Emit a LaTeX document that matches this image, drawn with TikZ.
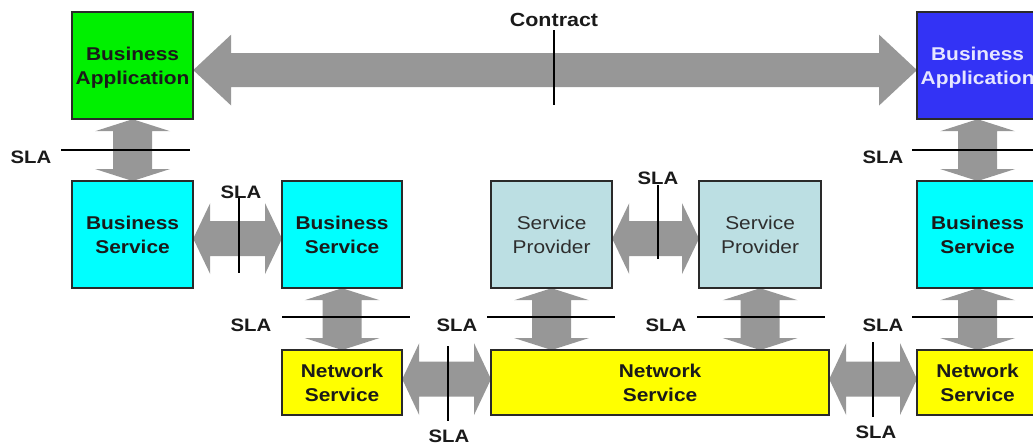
\documentclass[tikz,border=0pt]{standalone}
\usepackage{fontspec}
\setmainfont{Liberation Sans}[FakeStretch=1.13]
\usetikzlibrary{calc}

\definecolor{appgreen}{HTML}{00F000}
\definecolor{appblue}{HTML}{3333F5}
\definecolor{applabel}{HTML}{E6E6FF}
\definecolor{svccyan}{HTML}{00FFFF}
\definecolor{provgray}{HTML}{BCDFE3}
\definecolor{netyellow}{HTML}{FFFF00}
\definecolor{conngray}{HTML}{979797}
\definecolor{boxline}{HTML}{2A2A2A}
\definecolor{inktext}{HTML}{1A1A1A}
\definecolor{provtext}{HTML}{2E2E2E}

\tikzset{
  box/.style={draw=boxline, line width=1.2pt, anchor=north west, inner sep=0pt,
    align=center, text=inktext, font=\fontsize{18.5}{24}\selectfont\bfseries},
  tallbox/.style={box, minimum width=#1, minimum height=106pt},
  lowbox/.style={box, minimum width=#1, minimum height=64pt},
  provbox/.style={tallbox=#1, fill=provgray, text=provtext,
    font=\fontsize{18.5}{24}\selectfont},
  conn/.style={fill=conngray},
  slaline/.style={line width=2.6pt, black},
  slalabel/.style={inner sep=0pt, text=inktext, font=\fontsize{18}{20}\selectfont\bfseries}
}

% horizontal double arrow: from, to, shaft half height, head half height, head length
\newcommand\hconn[5]{%
  \fill[conn] let \p1=(#1), \p2=(#2) in
    (\x1,\y1) -- (\x1+#5,\y1+#4) -- (\x1+#5,\y1+#3) -- (\x2-#5,\y1+#3)
    -- (\x2-#5,\y1+#4) -- (\x2,\y1) -- (\x2-#5,\y1-#4) -- (\x2-#5,\y1-#3)
    -- (\x1+#5,\y1-#3) -- (\x1+#5,\y1-#4) -- cycle;}
% vertical double arrow: upper end, lower end, shaft half width, head half width, head length
\newcommand\vconn[5]{%
  \fill[conn] let \p1=(#1), \p2=(#2) in
    (\x1,\y1) -- (\x1+#4,\y1-#5) -- (\x1+#3,\y1-#5) -- (\x1+#3,\y2+#5)
    -- (\x1+#4,\y2+#5) -- (\x1,\y2) -- (\x1-#4,\y2+#5) -- (\x1-#3,\y2+#5)
    -- (\x1-#3,\y1-#5) -- (\x1-#4,\y1-#5) -- cycle;}

\begin{document}
\begin{tikzpicture}[x=1pt, y=-1pt]
\useasboundingbox (0,0) rectangle (1033,445);
\clip (0,0) rectangle (1033,445);

% business applications
\node[tallbox=120pt, fill=appgreen] (baL) at (72,12) {Business\\\smash{Application}};
\node[tallbox=120pt, fill=appblue, text=applabel] (baR) at (917,12) {Business\\\smash{Application}};

% business services and service providers
\node[tallbox=120pt, fill=svccyan] (bsL) at (72,181) {Business\\Service};
\node[tallbox=119pt, fill=svccyan] (bsM) at (282,181) {Business\\Service};
\node[provbox=120pt] (spL) at (491,181) {Service\\Provider};
\node[provbox=121pt] (spR) at (699,181) {Service\\Provider};
\node[tallbox=120pt, fill=svccyan] (bsR) at (917,181) {Business\\Service};

% network services
\node[lowbox=119pt, fill=netyellow] (nsL) at (282,350) {Network\\Service};
\node[lowbox=337pt, fill=netyellow] (nsM) at (491,350) {Network\\Service};
\node[lowbox=120pt, fill=netyellow] (nsR) at (917,350) {Network\\Service};

% connectors
\hconn{$(baL.east)+(0,4.5)$}{$(baR.west)+(0,4.5)$}{17pt}{35.5pt}{38pt}
\hconn{$(bsL.east)+(0,4)$}{$(bsM.west)+(0,4)$}{17.5pt}{35.5pt}{17pt}
\hconn{$(spL.east)+(0,4)$}{$(spR.west)+(0,4)$}{17.5pt}{35.5pt}{17pt}
\hconn{$(nsL.east)+(0,-3.5)$}{$(nsM.west)+(0,-3.5)$}{17.5pt}{36pt}{17pt}
\hconn{$(nsM.east)+(0,-3.5)$}{$(nsR.west)+(0,-3.5)$}{17.5pt}{36pt}{17pt}
\vconn{baL.south}{bsL.north}{19.5pt}{37.5pt}{12pt}
\vconn{baR.south}{bsR.north}{19.5pt}{37.5pt}{12pt}
\vconn{bsM.south}{nsL.north}{19.5pt}{37.5pt}{12pt}
\vconn{bsR.south}{nsR.north}{19.5pt}{37.5pt}{12pt}
\vconn{spL.south}{spL.south |- nsM.north}{19.5pt}{37.5pt}{12pt}
\vconn{spR.south}{spR.south |- nsM.north}{19.5pt}{37.5pt}{12pt}

% redraw the box outlines over the arrow tips
\foreach \b in {baL,baR,bsL,bsM,spL,spR,bsR,nsL,nsM,nsR}
  \draw[draw=boxline, line width=1.2pt] (\b.north west) rectangle (\b.south east);

% contract marker
\node[inner sep=0pt, text=inktext, font=\fontsize{19}{20}\selectfont\bfseries] (contract) at (554,20) {Contract};
\draw[slaline] (554,30) -- (554,105);

% service level agreement markers
\draw[slaline] (61,150) -- (190,150);
\node[slalabel] (sla1) at (31,157) {SLA};
\draw[slaline] (912,150) -- (1040,150);
\node[slalabel] (sla2) at (883,157) {SLA};
\draw[slaline] (239,198) -- (239,273);
\node[slalabel] (sla3) at (241,192) {SLA};
\draw[slaline] (282,317) -- (410,317);
\node[slalabel] (sla4) at (251,325) {SLA};
\draw[slaline] (487,317) -- (615,317);
\node[slalabel] (sla5) at (457,325) {SLA};
\draw[slaline] (697,317) -- (825,317);
\node[slalabel] (sla6) at (666,325) {SLA};
\draw[slaline] (912,317) -- (1040,317);
\node[slalabel] (sla7) at (883,325) {SLA};
\draw[slaline] (448,346) -- (448,421);
\node[slalabel] (sla8) at (449,436) {SLA};
\draw[slaline] (658,185) -- (658,259);
\node[slalabel] (sla9) at (658,178) {SLA};
\draw[slaline] (873,342) -- (873,417);
\node[slalabel] (sla10) at (876,432) {SLA};
\end{tikzpicture}
\end{document}
